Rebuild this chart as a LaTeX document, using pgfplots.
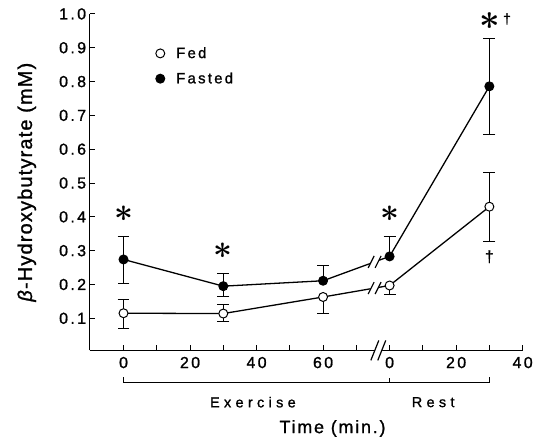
\documentclass[border=0pt]{standalone}
\usepackage{fontspec}
\setmainfont{Liberation Sans}[LetterSpace=15, FakeBold=1.2]
\newfontfamily\plainfont{Liberation Sans}[FakeBold=1.2]
\newfontfamily\widefont{Liberation Sans}[LetterSpace=30, FakeBold=1.2]
\usepackage{pgfplots}
\pgfplotsset{compat=1.18}
\newcommand\brk[5]{% x, y, half-width, half-height, gap
  \draw[white, line width=#5] ([shift={(-#3,-#4)}]axis cs:#1,#2) -- ([shift={(#3,#4)}]axis cs:#1,#2);
  \draw[black, line width=1.2pt] ([shift={(-#3-0.5*#5,-#4)}]axis cs:#1,#2) -- ([shift={(#3-0.5*#5,#4)}]axis cs:#1,#2);
  \draw[black, line width=1.2pt] ([shift={(-#3+0.5*#5,-#4)}]axis cs:#1,#2) -- ([shift={(#3+0.5*#5,#4)}]axis cs:#1,#2);
}
\begin{document}
\begin{tikzpicture}
\begin{axis}[name=ax, at={(0,0)}, anchor=south west,
  scale only axis, width=435pt, height=338pt,
  xmin=-10.2, xmax=120, ymin=0.005, ymax=1.0,
  axis lines=left, axis line style={-, line width=1.8pt},
  clip=false,
  xtick={0,10,...,120},
  xticklabels={0,,20,,40,,60,,0,,20,,40},
  ytick={0.1,0.2,0.3,0.4,0.5,0.6,0.7,0.8,0.9,1.0},
  yticklabel style={/pgf/number format/fixed, /pgf/number format/fixed zerofill, /pgf/number format/precision=1},
  /pgf/number format/assume math mode=true,
  tick align=inside, major tick length=5pt, tick style={line width=1pt, black},
  ticklabel style={font=\fontsize{16}{18}\selectfont},
  xticklabel style={yshift=-3pt},
  xlabel={Time (min.)},
  ylabel={\textit{β}-Hydroxybutyrate (mM)},
  xlabel style={at={(axis description cs:0.561,-0.232)}, anchor=center, font=\fontsize{18}{20}\selectfont\addfontfeatures{LetterSpace=10}},
  ylabel style={at={(axis description cs:-0.145,0.5)}, anchor=center, font=\fontsize{20}{22}\selectfont\addfontfeatures{LetterSpace=6}},
  legend image code/.code={\path[draw=none, fill=none] (-5pt,-5pt) rectangle (5pt,5pt); \draw[#1] plot coordinates {(0pt,0pt)};},
  legend style={draw=none, fill=none, at={(axis cs:9.5,0.905)}, anchor=north west,
    font=\fontsize{15}{17}\selectfont, row sep=11pt, inner sep=0pt,
    nodes={inner sep=1pt}, /tikz/every odd column/.append style={column sep=10pt}},
  legend cell align=left,
]
% error bars (upward)
\addplot[draw=none, mark=none, forget plot,
  error bars/.cd, y dir=plus, y explicit,
  error bar style={draw=black, solid, line width=1pt},
  error mark options={draw=black, rotate=90, mark size=6pt, line width=1pt}]
  table[x=x, y=y, y error=e] {
x y e
0 0.115 0.040
30 0.114 0.026
110 0.430 0.102
0 0.274 0.067
30 0.195 0.037
60 0.211 0.046
80 0.283 0.058
110 0.786 0.140
};
% error bars (downward)
\addplot[draw=none, mark=none, forget plot,
  error bars/.cd, y dir=minus, y explicit,
  error bar style={draw=black, solid, line width=1pt},
  error mark options={draw=black, rotate=90, mark size=6pt, line width=1pt}]
  table[x=x, y=y, y error=e] {
x y e
0 0.115 0.045
30 0.114 0.024
60 0.163 0.049
80 0.197 0.027
110 0.430 0.104
0 0.274 0.070
30 0.195 0.032
110 0.786 0.142
};
% Fed
\addplot[black, line width=1.3pt, forget plot, mark=*, mark size=4.5pt,
  mark options={fill=white, draw=black, line width=1pt}]
  table {
x y
0 0.115
30 0.114
60 0.163
80 0.197
110 0.430
};
% Fasted
\addplot[black, line width=1.3pt, forget plot, mark=*, mark size=4.5pt,
  mark options={fill=black, draw=black, line width=1pt}]
  table {
x y
0 0.274
30 0.195
60 0.211
80 0.283
110 0.786
};
\addlegendimage{only marks, black, mark=*, mark size=4.5pt, mark options={fill=white, draw=black, line width=1pt}}
\addlegendentry{Fed}
\addlegendimage{only marks, black, mark=*, mark size=4.5pt, mark options={fill=black, draw=black, line width=1pt}}
\addlegendentry{Fasted}
% breaks
\brk{75.5}{0.2668}{3pt}{6pt}{7pt}
\brk{75.5}{0.1894}{3pt}{6pt}{7pt}
\brk{76.6}{0.005}{4pt}{10pt}{7pt}
% significance marks
\node[inner sep=0pt] at (axis cs:0,0.41) {\scalebox{3.3}{\boldmath$\ast$}};
\node[inner sep=0pt] at (axis cs:30,0.30) {\scalebox{3.3}{\boldmath$\ast$}};
\node[inner sep=0pt] at (axis cs:80,0.41) {\scalebox{3.3}{\boldmath$\ast$}};
\node[inner sep=0pt] at (axis cs:110,0.98) {\scalebox{3.6}{\boldmath$\ast$}};
\node[inner sep=0pt, font=\plainfont\fontsize{14}{14}\selectfont] at (axis cs:115.3,0.985) {†};
\node[inner sep=0pt, font=\plainfont\fontsize{16}{16}\selectfont] at (axis cs:110,0.282) {†};
% bracket
\draw[line width=1.1pt] ([yshift=-27pt]axis cs:0,0.005) -- ([yshift=-32pt]axis cs:0,0.005)
  -- ([yshift=-32pt]axis cs:110,0.005) -- ([yshift=-27pt]axis cs:110,0.005);
\draw[line width=1pt] ([yshift=-32pt]axis cs:80,0.005) -- ([yshift=-28pt]axis cs:80,0.005);
\node[font=\widefont\fontsize{14.5}{16}\selectfont] at ([yshift=-52pt]axis cs:38.9,0.005) {Exercise};
\node[font=\widefont\fontsize{14.5}{16}\selectfont] at ([yshift=-52pt]axis cs:93.1,0.005) {Rest};
\end{axis}
\path ([shift={(-90pt,-90pt)}]ax.south west) rectangle ([shift={(11pt,14pt)}]ax.north east);
\end{tikzpicture}
\end{document}
